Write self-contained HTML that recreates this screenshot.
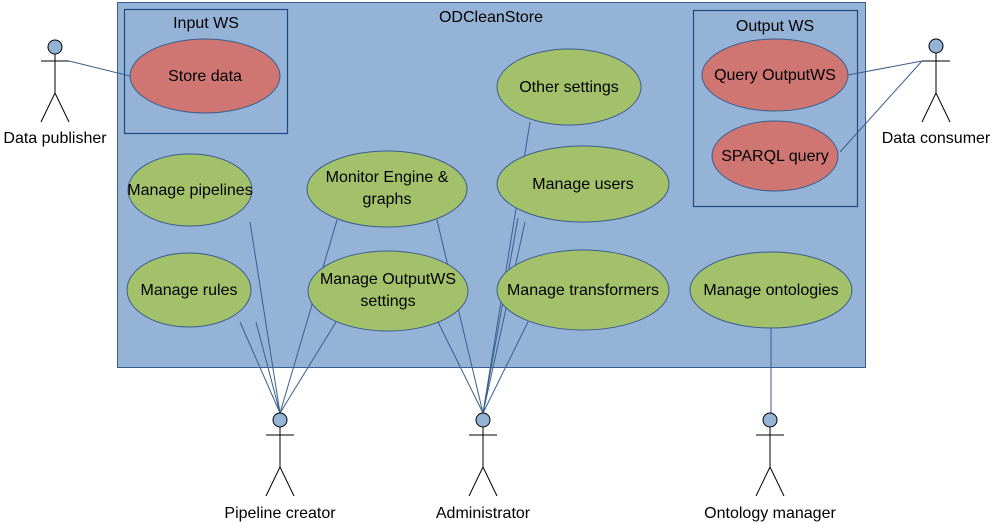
<!DOCTYPE html>
<html><head><meta charset="utf-8"><style>
html,body{margin:0;padding:0;background:#fff;}
svg{display:block;font-family:"Liberation Sans",sans-serif;}
text{font-size:16px;fill:#000;text-anchor:middle;}
</style></head><body>
<svg width="995" height="525" viewBox="0 0 995 525">
<rect x="117.5" y="2.5" width="748" height="365" fill="#95B3D7" stroke="#3B5E8C" stroke-width="1"/>
<text x="491" y="22">ODCleanStore</text>
<rect x="124.5" y="9.5" width="163" height="124" fill="none" stroke="#1F497D" stroke-width="1.2"/>
<text x="206" y="28">Input WS</text>
<rect x="693.5" y="10.5" width="164" height="196" fill="none" stroke="#1F497D" stroke-width="1.2"/>
<text x="775" y="31">Output WS</text>
<g stroke="#3B5E8C" stroke-width="1" fill="none">
<line x1="69" y1="61" x2="130" y2="76"/>
<line x1="922" y1="61" x2="848" y2="75"/>
<line x1="922" y1="61" x2="840" y2="152"/>
<line x1="280" y1="413" x2="250" y2="222"/>
<line x1="280" y1="413" x2="240" y2="322"/>
<line x1="280" y1="413" x2="256" y2="322"/>
<line x1="280" y1="413" x2="337" y2="220"/>
<line x1="280" y1="413" x2="336" y2="322"/>
<line x1="483" y1="413" x2="437" y2="220"/>
<line x1="483" y1="413" x2="438" y2="322"/>
<line x1="483" y1="413" x2="530" y2="122"/>
<line x1="483" y1="413" x2="518" y2="218"/>
<line x1="483" y1="413" x2="525" y2="222"/>
<line x1="483" y1="413" x2="528" y2="322"/>
<line x1="771" y1="328" x2="771" y2="413"/>
</g>
<g stroke="#3B5E8C" stroke-width="1">
<ellipse cx="205" cy="76" rx="75" ry="37" fill="#CF7673"/>
<ellipse cx="775" cy="75" rx="73" ry="36" fill="#CF7673"/>
<ellipse cx="775" cy="156" rx="63" ry="35" fill="#CF7673"/>
<ellipse cx="569" cy="87" rx="72" ry="38" fill="#A3C16A"/>
<ellipse cx="583" cy="184" rx="86" ry="38" fill="#A3C16A"/>
<ellipse cx="190" cy="190" rx="62" ry="36" fill="#A3C16A"/>
<ellipse cx="387" cy="189" rx="80" ry="38" fill="#A3C16A"/>
<ellipse cx="189" cy="290" rx="62" ry="37" fill="#A3C16A"/>
<ellipse cx="388" cy="291" rx="80" ry="40" fill="#A3C16A"/>
<ellipse cx="583" cy="290" rx="86" ry="40" fill="#A3C16A"/>
<ellipse cx="771" cy="290" rx="81" ry="38" fill="#A3C16A"/>
</g>
<text x="205" y="81">Store data</text>
<text x="775" y="80">Query OutputWS</text>
<text x="775" y="161">SPARQL query</text>
<text x="569" y="92">Other settings</text>
<text x="583" y="189">Manage users</text>
<text x="190" y="195">Manage pipelines</text>
<text x="387" y="182">Monitor Engine &amp;</text>
<text x="387" y="204">graphs</text>
<text x="189" y="295">Manage rules</text>
<text x="388" y="284">Manage OutputWS</text>
<text x="388" y="306">settings</text>
<text x="583" y="295">Manage transformers</text>
<text x="771" y="295">Manage ontologies</text>
<g stroke="#000" stroke-width="1" fill="none">
<path d="M41 61H69M55 54V93L41 122M55 93L69 122"/>
<path d="M922 61H950M936 53V93L922 122M936 93L950 122"/>
<path d="M266 435H294M280 427V467L266 496M280 467L294 496"/>
<path d="M469 435H497M483 427V467L469 496M483 467L497 496"/>
<path d="M756 435H784M770 427V467L756 496M770 467L784 496"/>
</g>
<g fill="#95B3D7" stroke="#000" stroke-width="1">
<circle cx="55" cy="47" r="7"/>
<circle cx="936" cy="46" r="7"/>
<circle cx="280" cy="420" r="7"/>
<circle cx="483" cy="420" r="7"/>
<circle cx="770" cy="420" r="7"/>
</g>
<text x="55" y="143">Data publisher</text>
<text x="936" y="143">Data consumer</text>
<text x="280" y="518">Pipeline creator</text>
<text x="483" y="518">Administrator</text>
<text x="770" y="518">Ontology manager</text>
</svg>
</body></html>
